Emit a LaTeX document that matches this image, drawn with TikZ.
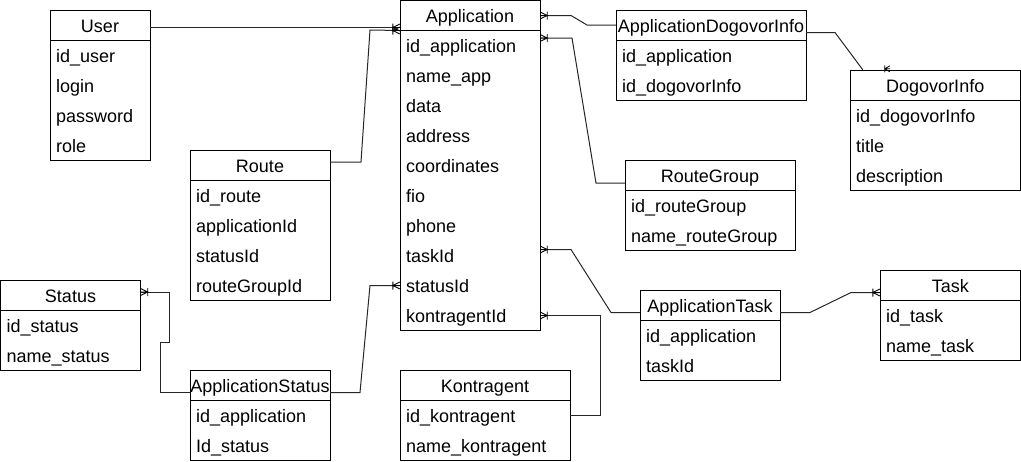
\documentclass[tikz,border=0pt]{standalone}
\usepackage{fontspec}
\setmainfont{Liberation Sans}
\usetikzlibrary{calc}
\tikzset{
  hdr/.style={inner sep=0pt, minimum height=30pt, text height=14pt, text depth=0pt, font=\fontsize{18}{20}\selectfont},
  fld/.style={inner sep=0pt, anchor=west, text height=14pt, text depth=0pt, font=\fontsize{18}{20}\selectfont},
  tbl/.style={draw=black, line width=1pt},
  conn/.style={draw=black!85, line width=1pt},
  crowfoot/.pic={\draw[line width=0.9pt] (0,0) -- (7,0) (0,-3.5) -- (7,0) -- (0,3.5) (7,-4) -- (7,4);},
  smallfoot/.pic={\draw[line width=0.8pt] (0,0) -- (5,0) (0,-3) -- (5,0) -- (0,3) (5,-3.5) -- (5,3.5);}
}
\newcommand{\ertable}[7]{%
  \draw[tbl] (#2,#3) rectangle ({#2+#4},{#3+30+30*#5});
  \draw[tbl] (#2,{#3+30}) -- ({#2+#4},{#3+30});
  \node[hdr, minimum width=#4pt] (#1) at ({#2+#4/2},{#3+15}) {#6};
  \foreach \r [count=\i] in {#7} {\node[fld] (#1-\i) at ({#2+6},{#3+15+30*\i}) {\r};}
}
\begin{document}
\begin{tikzpicture}[x=1pt,y=-1pt]
\useasboundingbox (0,0) rectangle (1021,461);
\ertable{user}{50}{10}{100}{4}{User}{id\_user,login,password,role}
\ertable{route}{190}{150}{140}{4}{Route}{id\_route,applicationId,statusId,routeGroupId}
\ertable{app}{400}{0.5}{140}{10}{Application}{id\_application,name\_app,data,address,coordinates,fio,phone,taskId,statusId,kontragentId}
\ertable{adi}{616}{10}{190}{2}{ApplicationDogovorInfo}{id\_application,id\_dogovorInfo}
\ertable{dog}{850}{70}{170.5}{3}{DogovorInfo}{id\_dogovorInfo,title,description}
\ertable{rg}{625}{160}{170}{2}{RouteGroup}{id\_routeGroup,name\_routeGroup}
\ertable{status}{0.5}{280}{140}{2}{Status}{id\_status,name\_status}
\ertable{as}{190}{370}{140}{2}{ApplicationStatus}{id\_application,Id\_status}
\ertable{kontr}{400}{370}{170}{2}{Kontragent}{id\_kontragent,name\_kontragent}
\ertable{at}{640}{290}{140}{2}{ApplicationTask}{id\_application,taskId}
\ertable{task}{880}{270}{140.5}{2}{Task}{id\_task,name\_task}

% connectors
\draw[conn] ($(user.east)+(0,2.5)$) -- ($(user.east -| app.west)+(0,2.5)$);
\draw[conn] ($(route.east)+(0,-3)$) -- (361,162) -- (370,30) -- ($(app.west)+(0,15)$);
\draw[conn] (app.east) -- (571,15.5) -- (587,25) -- (adi.west);
\draw[conn] ($(adi.east)+(0,7.5)$) -- (835,32.5) -- ($(dog.north west)+(13,0)$);
\draw[conn] ($(app.east)+(0,22.5)$) -- (572,38) -- (596,183) -- ($(rg.west)+(0,8)$);
\draw[conn] ($(app.east |- app-8)+(0,-6)$) -- (571,249.5) -- (611,312.5) -- ($(at.west)+(0,7.5)$);
\draw[conn] ($(at.east)+(0,7.5)$) -- (810,312.5) -- (851,292.5) -- ($(task.west)+(0,7.5)$);
\draw[conn] ($(as.east)+(0,7.5)$) -- (360,392.5) -- (370,285.5) -- (app.west |- app-9);
\draw[conn] ($(as.west)+(0,7.5)$) -- (160,392.5) -- (160,342.5) -- (169.5,342.5) -- (169.5,292) -- ($(status.east)+(0,-3)$);
\draw[conn] (kontr.east |- kontr-1) -- (600,415) -- (600,315.5) -- (app.east |- app-10);

% markers
\pic[rotate=180] at ($(user.east -| app.west)+(0,2.5)$) {crowfoot};
\pic[rotate=180] at ($(app.west)+(0,15)$) {crowfoot};
\pic at (app.east) {crowfoot};
\pic at ($(app.east)+(0,22.5)$) {crowfoot};
\pic at ($(app.east |- app-8)+(0,-6)$) {crowfoot};
\pic at (app.east |- app-10) {crowfoot};
\pic[rotate=180] at (app.west |- app-9) {crowfoot};
\pic at ($(status.east)+(0,-3)$) {crowfoot};
\pic[rotate=180] at ($(task.west)+(0,7.5)$) {crowfoot};
\pic[rotate=180] at ($(dog.north west)+(40,-1)$) {smallfoot};
\end{tikzpicture}
\end{document}
